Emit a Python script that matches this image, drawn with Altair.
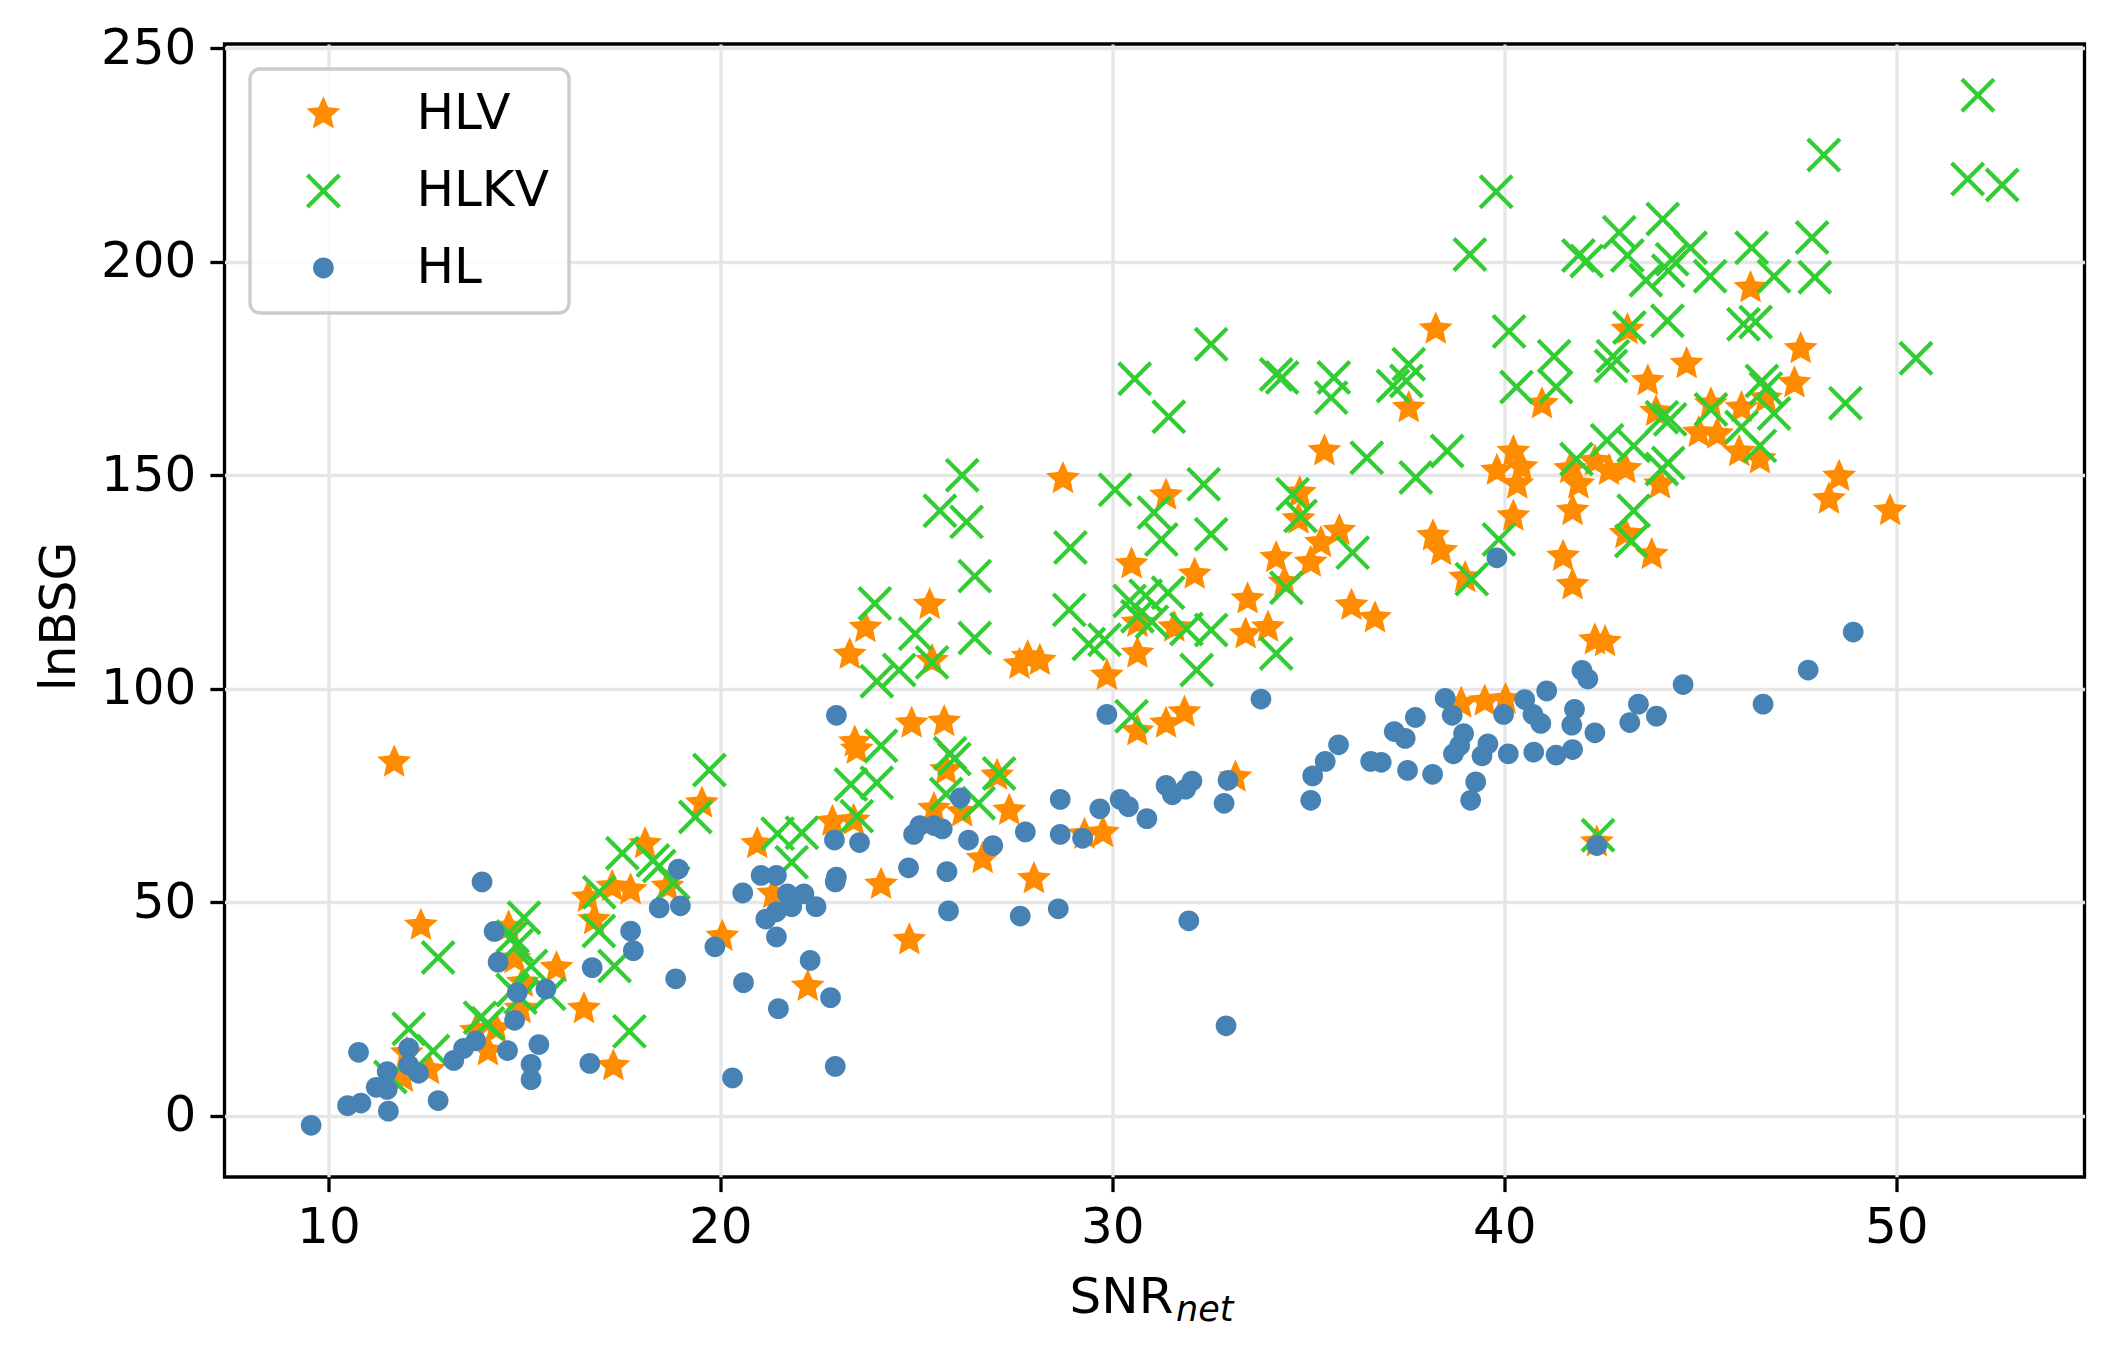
import math
import altair as alt
import pandas as pd

# ---------------- data ----------------
hlv_x = [11.68, 12.36, 12.0, 12.57, 11.9, 14.07, 13.76, 14.28, 14.6, 14.75, 14.96, 14.9, 15.82, 16.52,
         17.27, 16.62, 17.24, 17.71, 16.78, 18.08, 18.65, 19.53, 20.05, 20.94, 21.35, 22.23, 23.3, 23.7,
         23.43, 23.48, 23.4, 22.86, 25.34, 25.4, 27.84, 28.15, 27.63, 29.86, 30.64, 30.64, 31.58, 33.45,
         33.4, 33.97, 36.1, 36.7, 24.88, 25.71, 25.76, 27.06, 27.37, 26.17, 25.45, 26.69, 24.1, 28.0,
         24.82, 29.29, 29.76, 30.64, 31.37, 31.84, 33.14, 38.9, 39.5, 40.03, 42.31, 42.57, 42.36, 46.28,
         43.14, 44.65, 47.56, 43.66, 47.4, 40.96, 45.27, 46.05, 46.67, 43.87, 44.96, 45.43, 45.99, 46.52,
         40.23, 39.81, 40.44, 40.33, 41.68, 41.89, 42.31, 42.67, 43.09, 43.97, 41.74, 40.23, 48.54, 48.28,
         49.84, 43.09, 43.76, 41.5, 41.74, 39.0, 38.25, 37.56, 35.41, 28.74, 31.37, 34.78, 34.75, 38.18,
         38.39, 35.79, 35.32, 34.18, 35.06, 34.39, 30.49, 32.1]
hlv_y = [82.8, 44.6, 14.7, 10.8, 9.0, 15.2, 19.9, 20.4, 44.2, 36.8, 31.2, 25.1, 34.7, 25.1,
         11.7, 51.1, 53.7, 52.9, 45.9, 63.7, 53.7, 73.2, 42.0, 63.7, 52.0, 30.3, 108.0, 114.3,
         87.5, 85.8, 69.2, 68.9, 119.7, 106.6, 107.5, 106.6, 105.7, 103.1, 108.3, 115.5, 114.4, 121.0,
         112.8, 114.4, 119.5, 116.6, 91.9, 92.3, 81.0, 79.7, 71.5, 71.1, 71.9, 60.2, 54.2, 55.5,
         41.2, 65.9, 66.3, 90.1, 91.9, 94.5, 79.3, 96.6, 97.1, 97.5, 111.4, 111.0, 64.1, 193.9,
         184.1, 176.1, 179.6, 172.1, 171.6, 166.7, 166.7, 165.8, 168.0, 164.9, 160.0, 159.6, 155.5, 153.8,
         155.5, 151.1, 151.9, 147.9, 151.5, 147.9, 153.3, 151.1, 151.5, 147.9, 141.7, 140.4, 149.7, 144.4,
         141.7, 136.3, 131.4, 131.0, 124.3, 126.0, 184.2, 165.8, 155.7, 149.2, 145.3, 145.9, 139.7, 135.8,
         132.3, 137.0, 134.2, 130.7, 129.6, 124.9, 129.2, 126.8]

hlkv_x = [12.05, 11.58, 12.67, 12.8, 13.87, 14.07, 14.99, 14.7, 14.8, 15.17, 14.7, 14.9, 15.63, 16.91,
          16.9, 17.3, 17.68, 17.5, 18.28, 18.44, 18.8, 19.36, 19.72, 21.46, 21.82, 22.08, 23.33, 23.48,
          23.94, 24.97, 26.49, 28.9, 24.56, 23.99, 25.4, 29.4, 29.8, 30.64, 31.01, 31.89, 32.52, 32.15,
          34.18, 30.49, 24.1, 23.99, 25.86, 25.97, 25.76, 26.59, 27.11, 42.39, 39.12, 32.52, 30.57, 31.44,
          34.18, 34.33, 35.65, 35.58, 37.16, 37.56, 37.5, 38.54, 36.49, 37.74, 26.17, 25.6, 26.28, 30.07,
          32.33, 31.06, 31.25, 28.93, 32.52, 34.6, 34.8, 36.13, 26.49, 39.17, 34.44, 30.44, 30.85, 31.42,
          52.08, 48.15, 51.82, 52.7, 39.79, 41.89, 42.1, 42.93, 43.14, 44.04, 44.75, 44.28, 43.61, 44.18,
          45.25, 46.31, 46.88, 47.85, 47.92, 40.12, 41.27, 41.32, 42.72, 42.77, 43.19, 44.16, 46.1, 46.41,
          50.5, 40.31, 46.57, 46.67, 46.88, 48.7, 44.02, 44.23, 41.84, 42.62, 43.3, 45.27, 46.05, 46.52,
          44.02, 44.18, 43.3, 43.24, 39.86]
hlkv_y = [20.4, 9.1, 15.2, 37.1, 23.0, 21.7, 46.4, 42.0, 39.9, 35.1, 29.5, 27.7, 28.6, 52.4,
          43.3, 35.1, 19.8, 61.5, 59.8, 58.5, 54.6, 70.0, 81.0, 66.1, 59.4, 66.3, 77.6, 70.2,
          120.0, 112.9, 111.9, 118.5, 104.4, 101.8, 106.2, 110.5, 111.5, 117.0, 115.7, 114.0, 113.8, 104.4,
          108.3, 93.6, 86.7, 78.0, 84.9, 83.6, 75.4, 73.2, 80.2, 65.7, 201.7, 180.7, 172.6, 163.7,
          173.6, 172.9, 172.9, 168.2, 170.9, 176.0, 172.1, 155.7, 154.1, 149.5, 150.0, 141.7, 139.1, 146.6,
          147.9, 141.3, 135.0, 133.1, 136.2, 145.6, 140.5, 131.9, 126.4, 125.7, 123.7, 120.6, 121.8, 122.5,
          239.0, 225.0, 219.4, 218.0, 216.4, 201.5, 200.2, 206.9, 201.5, 210.0, 203.3, 200.6, 195.7, 197.9,
          196.6, 203.3, 196.6, 205.7, 196.4, 183.7, 177.9, 170.7, 175.6, 177.9, 184.6, 186.2, 185.4, 185.9,
          177.4, 170.7, 172.1, 170.3, 164.5, 166.9, 163.6, 163.1, 153.8, 158.2, 156.9, 165.4, 161.3, 156.9,
          151.5, 152.9, 141.7, 134.6, 135.0]

hl_x = [9.56, 10.49, 10.83, 11.53, 11.22, 11.5, 11.5, 10.77, 12.05, 12.05, 12.3, 12.8, 13.2, 13.45,
        13.76, 13.92, 14.23, 14.33, 14.82, 14.75, 15.55, 14.57, 15.37, 15.17, 15.17, 16.67, 16.73, 17.71,
        17.78, 18.44, 18.93, 18.98, 18.86, 19.86, 20.31, 20.57, 20.59, 21.04, 21.43, 21.16, 21.43, 21.43,
        21.71, 21.82, 22.13, 22.44, 21.48, 22.29, 22.81, 22.93, 22.96, 22.91, 23.55, 22.96, 22.93, 24.8,
        25.78, 25.82, 24.93, 25.09, 25.45, 25.66, 26.33, 26.12, 26.95, 27.78, 27.65, 28.62, 28.67, 28.67,
        29.24, 29.68, 29.86, 30.2, 30.41, 30.88, 31.37, 31.53, 31.87, 32.03, 31.95, 32.85, 32.95, 32.9,
        33.79, 35.06, 35.11, 35.43, 35.77, 36.59, 36.86, 37.19, 37.47, 37.73, 37.53, 38.17, 38.49, 38.67,
        38.96, 38.86, 38.7, 39.43, 39.58, 39.27, 39.14, 40.1, 40.75, 41.32, 41.74, 42.31, 39.98, 40.52,
        40.73, 40.93, 41.08, 41.79, 41.72, 41.98, 42.13, 43.42, 43.2, 43.88, 44.56, 46.6, 47.75, 48.9,
        42.36, 39.81]
hl_y = [-2.2, 2.4, 3.0, 1.1, 6.7, 6.2, 10.4, 14.9, 15.9, 11.9, 10.0, 3.6, 13.0, 15.8,
        17.6, 54.8, 43.2, 36.0, 28.9, 22.4, 29.7, 15.3, 16.7, 12.1, 8.5, 12.3, 34.7, 43.3,
        38.7, 48.7, 57.8, 49.2, 32.1, 39.6, 8.9, 52.2, 31.2, 56.3, 56.3, 46.1, 47.8, 41.9,
        52.0, 49.0, 52.0, 49.0, 25.1, 36.4, 27.7, 11.6, 93.8, 64.6, 64.0, 55.9, 54.8, 58.1,
        57.2, 48.0, 65.9, 68.0, 68.0, 67.2, 64.6, 74.5, 63.3, 66.5, 46.8, 48.5, 74.1, 65.9,
        65.0, 71.9, 94.0, 74.1, 72.4, 69.6, 77.4, 75.2, 76.5, 78.4, 45.7, 73.2, 78.6, 21.1,
        97.6, 73.9, 79.6, 83.0, 86.9, 83.0, 82.8, 90.0, 88.4, 93.3, 80.9, 80.0, 97.8, 93.8,
        89.5, 86.7, 84.8, 84.3, 87.1, 78.2, 73.9, 84.8, 85.2, 84.5, 85.8, 89.7, 94.0, 97.5,
        94.0, 91.9, 99.5, 95.2, 91.5, 104.3, 102.3, 96.4, 92.1, 93.6, 101.0, 96.4, 104.4, 113.3,
        63.3, 130.7]

series_names = ["HLV", "HLKV", "HL"]
series_colors = ["#ff8c00", "#32cd32", "#4682b4"]
x_ticks = [10, 20, 30, 40, 50]
y_ticks = [0, 50, 100, 150, 200, 250]

# ---------------- marker shapes (unit = sqrt(size)/2) ----------------
SYM = 1197  # unit length ~17.3 px

def fmt(v):
    return f"{v:.4f}"

# five-pointed star (chunky, like matplotlib's star with its edge line)
pts = []
for k in range(10):
    r = 1.03 if k % 2 == 0 else 0.48
    a = math.radians(-90 + 36 * k)
    pts.append((r * math.cos(a), r * math.sin(a)))
star_path = "M" + "L".join(f"{fmt(px)},{fmt(py)}" for px, py in pts) + "Z"

# thin X outline (rotated plus)
L_arm = 0.925 * math.sqrt(2)
h = 0.121
plus = [(-h, -L_arm), (h, -L_arm), (h, -h), (L_arm, -h), (L_arm, h), (h, h),
        (h, L_arm), (-h, L_arm), (-h, h), (-L_arm, h), (-L_arm, -h), (-h, -h)]
s2 = math.sqrt(2)
xpts = [((px - py) / s2, (px + py) / s2) for px, py in plus]
x_path = "M" + "L".join(f"{fmt(px)},{fmt(py)}" for px, py in xpts) + "Z"

rc = 0.6
circle_path = (f"M{rc},0A{rc},{rc},0,1,1,{-rc},0A{rc},{rc},0,1,1,{rc},0Z")
series_shapes = [star_path, x_path, circle_path]

rows = []
for name, xs, ys in [("HLV", hlv_x, hlv_y), ("HLKV", hlkv_x, hlkv_y), ("HL", hl_x, hl_y)]:
    for a, b in zip(xs, ys):
        rows.append({"snr": a, "lnbsg": b, "series": name})
df = pd.DataFrame(rows)

FONT = "DejaVu Sans"

points = alt.Chart(df).mark_point(filled=True, opacity=1, size=SYM, strokeWidth=0).encode(
    x=alt.X("snr:Q",
            scale=alt.Scale(domain=[7.35, 54.8], nice=False, zero=False),
            axis=alt.Axis(values=x_ticks, title=None, labelPadding=11, labelFlush=False,
                          labelOverlap=False, format="d")),
    y=alt.Y("lnbsg:Q",
            scale=alt.Scale(domain=[-14.3, 251], nice=False, zero=False),
            axis=alt.Axis(values=y_ticks, title="lnBSG", labelPadding=14, labelOverlap=False,
                          format="d", titleX=-150.5, titleY=572, titleAngle=270,
                          titleAlign="center", titleBaseline="alphabetic")),
    color=alt.Color("series:N",
                    scale=alt.Scale(domain=series_names, range=series_colors),
                    legend=alt.Legend(orient="none", legendX=25.5, legendY=25, title=None,
                                      labelFontSize=50, labelFont=FONT, labelColor="black",
                                      symbolSize=SYM, symbolStrokeWidth=0, symbolOpacity=1,
                                      padding=20, rowPadding=27, symbolOffset=28.4,
                                      labelOffset=68, fillColor="rgba(255,255,255,0.8)",
                                      strokeColor="#cccccc", cornerRadius=10)),
    shape=alt.Shape("series:N",
                    scale=alt.Scale(domain=series_names, range=series_shapes)),
)

snr_text = alt.Chart(alt.Data(values=[{}])).mark_text(
    text="SNR", align="left", baseline="alphabetic", fontSize=50, font=FONT, color="black"
).encode(x=alt.value(845), y=alt.value(1269))

net_text = alt.Chart(alt.Data(values=[{}])).mark_text(
    text="net", align="left", baseline="alphabetic", fontSize=35, font=FONT,
    fontStyle="italic", color="black"
).encode(x=alt.value(951.5), y=alt.value(1277))

chart = alt.layer(points, snr_text, net_text).properties(
    width=1860, height=1133,
    autosize=alt.AutoSizeParams(type="none"),
    padding={"left": 216.5, "top": 36, "right": 22, "bottom": 169},
    background="white",
).configure_view(
    stroke="black", strokeWidth=3.3
).configure_axis(
    grid=True, gridColor="#e6e6e6", gridWidth=3.3, domain=False,
    tickColor="black", tickWidth=3.3, tickSize=14.6,
    labelFont=FONT, labelFontSize=50, labelColor="black",
    titleFont=FONT, titleFontSize=50, titleFontWeight="normal", titleColor="black",
).configure_legend(
    strokeWidth=3.3
)

chart.save("out.html", embed_options={"renderer": "svg", "actions": False})
